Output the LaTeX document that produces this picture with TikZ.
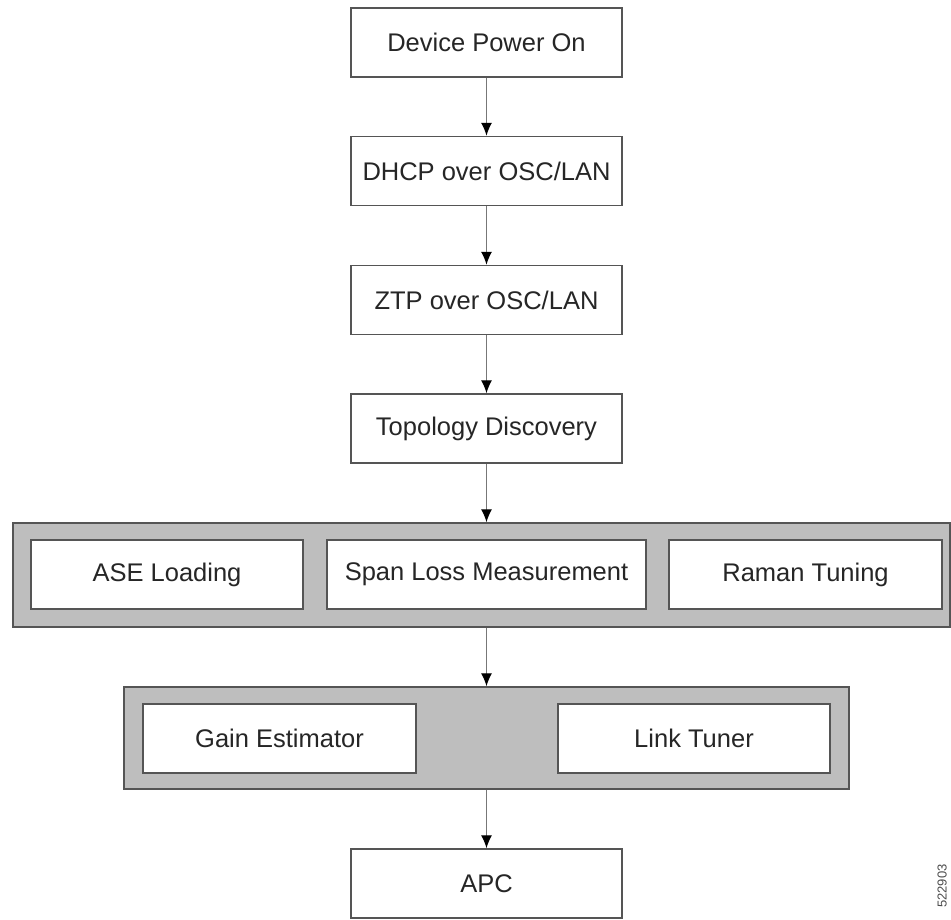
\documentclass[tikz,border=0pt]{standalone}
\usepackage{fontspec}
\setmainfont{Liberation Sans}
\usetikzlibrary{arrows.meta}
\usepackage{xcolor}
\definecolor{boxline}{HTML}{555555}
\definecolor{stagefill}{HTML}{BEBEBE}
\definecolor{arrowline}{HTML}{777777}

\begin{document}
\begin{tikzpicture}[x=1pt,y=-1pt]
			\tikzset{font=\fontsize{25.5}{28}\selectfont, text=black!85}
			\tikzset{step box/.style = {shape=rectangle,draw=boxline,fill=white,line width=1.4pt,
					minimum width=271pt,minimum height=69pt,inner sep=0pt}}
			\tikzset{stage/.style = {shape=rectangle,draw=boxline,fill=stagefill,line width=1.4pt,inner sep=0pt}}
			\tikzset{edge/.style = {draw=arrowline,line width=1.3pt,-{Latex[length=13pt,width=11pt,color=black]}}}
			\useasboundingbox (0,0) rectangle (951,919);
			% steps
			\node[step box] (power) at (486.5,42.5) {Device Power On};
			\node[step box] (dhcp) at (486.5,171) {DHCP over OSC/LAN};
			\node[step box] (ztp) at (486.5,300) {ZTP over OSC/LAN};
			\node[step box] (topo) at (486.5,428.5) {Topology Discovery};
			
			% first stage
			\node[stage,minimum width=937pt,minimum height=104pt] (stageA) at (481.5,575) {};
			\node[step box,minimum width=272pt] (ase) at (167,574.5) {ASE Loading};
			\node[step box,minimum width=319pt] (span) at (486.5,574.5) {Span Loss Measurement};
			\node[step box,minimum width=273pt] (raman) at (805.5,574.5) {Raman Tuning};
			
			% second stage
			\node[stage,minimum width=725pt,minimum height=102pt] (stageB) at (486.5,738) {};
			\node[step box,minimum width=273pt] (gain) at (279.5,738.5) {Gain Estimator};
			\node[step box,minimum width=272pt] (link) at (694,738.5) {Link Tuner};
			
			\node[step box] (apc) at (486.5,883.5) {APC};
			
			\node[rotate=90,anchor=south,inner sep=1pt,font=\fontsize{13}{15}\selectfont,text=black!70] (fig) at (948,886) {522903};
			
			%edges
			\draw[edge] (power) to (dhcp);
			\draw[edge] (dhcp) to (ztp);
			\draw[edge] (ztp) to (topo);
			\draw[edge] (topo) to (span |- stageA.north);
			\draw[edge] (span |- stageA.south) to (stageB);
			\draw[edge] (stageB) to (apc);
			\end{tikzpicture}
\end{document}
